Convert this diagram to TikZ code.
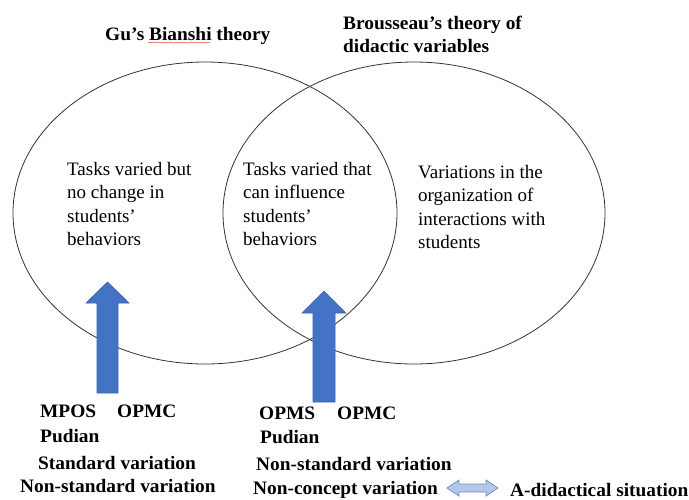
\documentclass[tikz,border=0pt]{standalone}
\usepackage{fontspec}
\setmainfont{Liberation Serif}
\definecolor{arrowblue}{HTML}{4472C4}
\definecolor{arrowedge}{HTML}{3A64B0}
\definecolor{lightblue}{HTML}{B4C7E7}
\definecolor{lightedge}{HTML}{6E8FCB}
\definecolor{squiggle}{HTML}{E88080}
\tikzset{
  ell/.style={draw=black!80, line width=0.8pt},
  body/.style={anchor=base west, inner sep=0pt, font=\fontsize{19}{23}\selectfont},
  hdr/.style={anchor=base west, inner sep=0pt, xscale=1.02, font=\fontsize{19}{23}\selectfont\bfseries},
  blockarrow/.style={fill=arrowblue, draw=arrowedge, line width=0.6pt},
  dblarrow/.style={fill=lightblue, draw=lightedge, line width=0.8pt}
}
\begin{document}
\begin{tikzpicture}[x=1pt,y=-1pt]
\useasboundingbox (0,0) rectangle (689,499);
% ellipses
\draw[ell] (205,213) ellipse [x radius=192, y radius=151];
\draw[ell] (414,213) ellipse [x radius=191, y radius=151];
% titles
\node[hdr] (gu) at (105,40) {Gu’s Bianshi theory};
\draw[squiggle, line width=0.6pt] (148,42) -- (210,42);
\node[hdr] (br1) at (343,29) {Brousseau’s theory of};
\node[hdr] (br2) at (343,52) {didactic variables};
% region texts
\node[body] (l1) at (67,175) {Tasks varied but};
\node[body] (l2) at (67,198) {no change in};
\node[body] (l3) at (67,222) {students’};
\node[body] (l4) at (67,245) {behaviors};
\node[body] (m1) at (243,175) {Tasks varied that};
\node[body] (m2) at (243,198) {can influence};
\node[body] (m3) at (243,222) {students’};
\node[body] (m4) at (243,245) {behaviors};
\node[body] (r1) at (418,178) {Variations in the};
\node[body] (r2) at (418,201) {organization of};
\node[body] (r3) at (418,225) {interactions with};
\node[body] (r4) at (418,248) {students};
% block arrows
\draw[blockarrow] (97,393) -- (97,303) -- (86,303) -- (107.5,282) -- (129,303) -- (118,303) -- (118,393) -- cycle;
\draw[blockarrow] (313,402) -- (313,313) -- (302,313) -- (324,291) -- (346,313) -- (335,313) -- (335,402) -- cycle;
% bottom labels left
\node[hdr] (mpos) at (40,417) {MPOS};
\node[hdr] (opmcl) at (117,417) {OPMC};
\node[hdr] (pudl) at (40,442) {Pudian};
\node[hdr] (stdl) at (38,469) {Standard variation};
\node[hdr] (nstdl) at (20,492) {Non-standard variation};
% bottom labels right
\node[hdr] (opms) at (259,419) {OPMS};
\node[hdr] (opmcr) at (337,419) {OPMC};
\node[hdr] (pudr) at (260,443) {Pudian};
\node[hdr] (nstdr) at (256,470) {Non-standard variation};
\node[hdr] (ncon) at (253,494) {Non-concept variation};
\node[hdr] (adid) at (510,496) {A-didactical situation};
% double arrow
\draw[dblarrow] (447,488) -- (459,480) -- (459,484) -- (486,484) -- (486,480) -- (498,488) -- (486,496) -- (486,492) -- (459,492) -- (459,496) -- cycle;
\end{tikzpicture}
\end{document}
